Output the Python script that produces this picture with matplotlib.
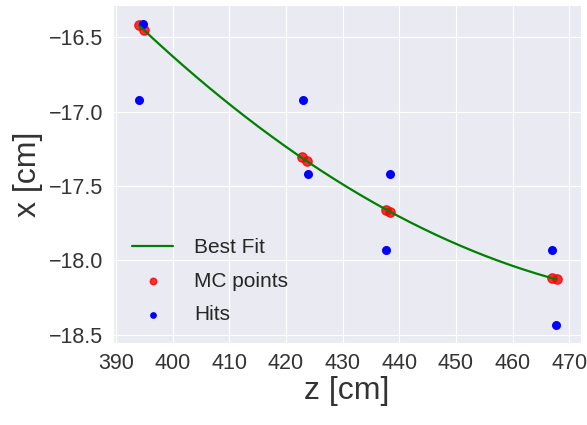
import numpy as np
import matplotlib.pyplot as plt
import seaborn as sns

sns.set_style("darkgrid")
plt.rcParams['font.family'] = ['Liberation Sans', 'DejaVu Sans']

# hits (blue)
hits_z = [394.8, 394.1, 423.0, 423.9, 438.4, 437.6, 466.9, 467.7]
hits_x = [-16.41, -16.92, -16.92, -17.42, -17.42, -17.93, -17.93, -18.43]

# MC points (red)
mc_z = [394.1, 394.9, 422.8, 423.7, 437.6, 438.3, 467.0, 467.8]
mc_x = [-16.42, -16.455, -17.305, -17.33, -17.66, -17.675, -18.12, -18.125]

# best fit through MC points
coef = np.polyfit(mc_z, mc_x, 2)
zz = np.linspace(min(mc_z), max(mc_z), 200)

fig = plt.figure(figsize=(5.87, 4.25), dpi=100)
ax = fig.add_axes([0.1925, 0.193, 0.7975, 0.795])
ax.plot(zz, np.polyval(coef, zz), color='green', lw=1.6, label='Best Fit')
ax.scatter(mc_z, mc_x, color='red', s=45, alpha=0.8, label='MC points')
ax.scatter(hits_z, hits_x, color='blue', s=30, label='Hits')

ax.set_xlim(389.5, 472.1)
ax.set_ylim(-18.554, -16.285)
ax.set_xticks(np.arange(390, 471, 10))
ax.set_yticks([-16.5, -17.0, -17.5, -18.0, -18.5])
ax.tick_params(labelsize=15.5, colors='#333333')
ax.set_xlabel('z [cm]', fontsize=23, color='#333333', labelpad=2)
ax.set_ylabel('x [cm]', fontsize=23, color='#333333', labelpad=4)
ax.legend(loc='lower left', fontsize=15, frameon=False, bbox_to_anchor=(0.0, 0.0),
          handletextpad=1.0, labelspacing=0.7, markerscale=0.7)

fig.savefig('out.png')
